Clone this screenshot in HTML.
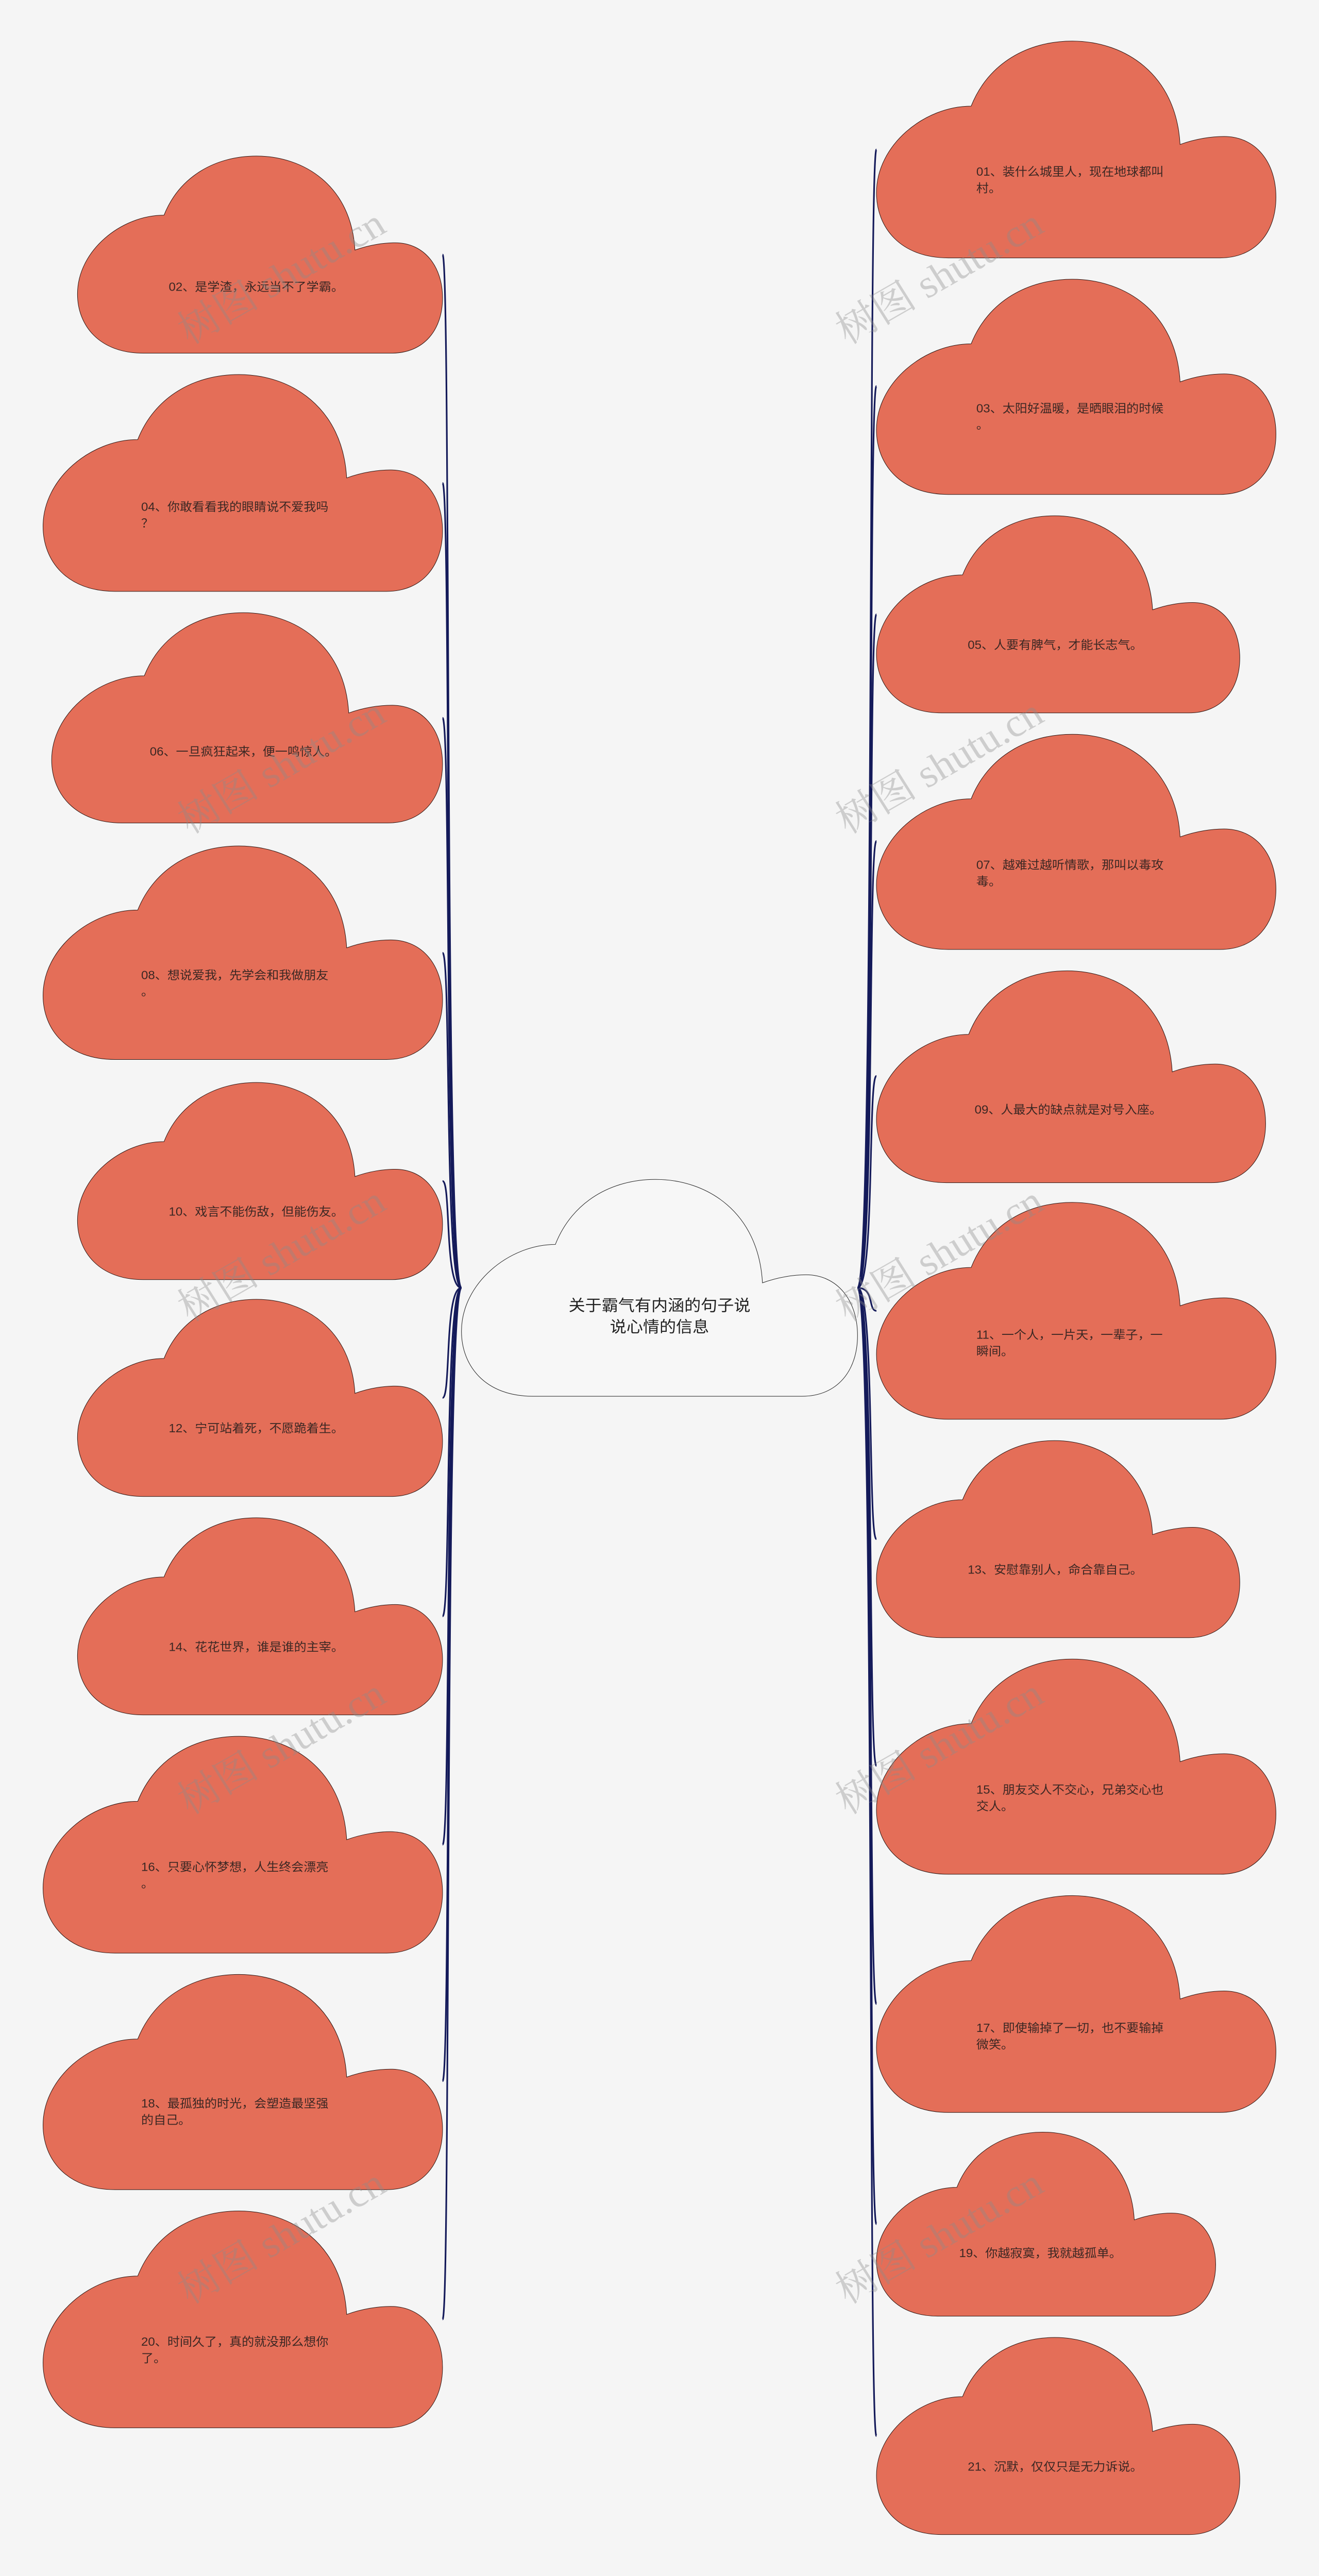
<!DOCTYPE html>
<html><head><meta charset="utf-8"><style>
html,body{margin:0;padding:0;background:#f5f5f5;width:100%;height:100%;overflow:hidden;}
svg{display:block;width:100vw;height:100vh;}
.t{font-family:"Liberation Sans","Noto Sans CJK SC",sans-serif;font-size:7.2px;fill:#3b2723;}
.c{font-family:"Liberation Sans","Noto Sans CJK SC",sans-serif;font-size:9.6px;fill:#222;}
.w{font-family:"Liberation Serif","Noto Serif CJK SC",serif;font-size:24px;fill:rgba(140,140,140,0.38);}
.cl{fill:#e46e58;stroke:#2a1410;}
.ln{fill:none;stroke:#141a5a;stroke-width:0.95;}
</style></head><body>
<svg viewBox="0 0 766 1568.2" preserveAspectRatio="none" xmlns="http://www.w3.org/2000/svg">
<rect width="766" height="1568.2" fill="#f5f5f5"/>

<g class="ln">
<path d="M268,784 C258,784 262,155 257,155"/>
<path d="M268,784 C258,784 262,294 257,294"/>
<path d="M268,784 C258,784 262,437 257,437"/>
<path d="M268,784 C258,784 262,580 257,580"/>
<path d="M268,784 C258,784 262,719 257,719"/>
<path d="M268,784 C258,784 262,851 257,851"/>
<path d="M268,784 C258,784 262,984 257,984"/>
<path d="M268,784 C258,784 262,1123 257,1123"/>
<path d="M268,784 C258,784 262,1267 257,1267"/>
<path d="M268,784 C258,784 262,1412 257,1412"/>
<path d="M498,784 C508,784 504,91 509,91"/>
<path d="M498,784 C508,784 504,235 509,235"/>
<path d="M498,784 C508,784 504,374 509,374"/>
<path d="M498,784 C508,784 504,512 509,512"/>
<path d="M498,784 C508,784 504,655 509,655"/>
<path d="M498,784 C508,784 504,798 509,798"/>
<path d="M498,784 C508,784 504,937 509,937"/>
<path d="M498,784 C508,784 504,1075 509,1075"/>
<path d="M498,784 C508,784 504,1220 509,1220"/>
<path d="M498,784 C508,784 504,1354 509,1354"/>
<path d="M498,784 C508,784 504,1483 509,1483"/>
</g>

<path d="M18,100 C6,100 0,86 0,70 C0,48 12,30 23.7,30 C28,10 38,0 49,0 C62,0 75,15 76,47.7 C80,45 84,44 87,44 C95,44 100,56 100,72 C100,88 95,100 86,100 Z" transform="translate(268,718) scale(2.30,1.32)" fill="#f7f7f7" stroke="#222" stroke-width="1" vector-effect="non-scaling-stroke"/>
<text class="c" text-anchor="middle"><tspan x="383" y="798">关于霸气有内涵的句子说</tspan><tspan x="383" y="811">说心情的信息</tspan></text>

<g class="cl">
<path d="M18,100 C6,100 0,86 0,70 C0,48 12,30 23.7,30 C28,10 38,0 49,0 C62,0 75,15 76,47.7 C80,45 84,44 87,44 C95,44 100,56 100,72 C100,88 95,100 86,100 Z" transform="translate(45,95) scale(2.12,1.20)" stroke-width="1" vector-effect="non-scaling-stroke"/>
<path d="M18,100 C6,100 0,86 0,70 C0,48 12,30 23.7,30 C28,10 38,0 49,0 C62,0 75,15 76,47.7 C80,45 84,44 87,44 C95,44 100,56 100,72 C100,88 95,100 86,100 Z" transform="translate(25,228) scale(2.32,1.32)" stroke-width="1" vector-effect="non-scaling-stroke"/>
<path d="M18,100 C6,100 0,86 0,70 C0,48 12,30 23.7,30 C28,10 38,0 49,0 C62,0 75,15 76,47.7 C80,45 84,44 87,44 C95,44 100,56 100,72 C100,88 95,100 86,100 Z" transform="translate(30,373) scale(2.27,1.28)" stroke-width="1" vector-effect="non-scaling-stroke"/>
<path d="M18,100 C6,100 0,86 0,70 C0,48 12,30 23.7,30 C28,10 38,0 49,0 C62,0 75,15 76,47.7 C80,45 84,44 87,44 C95,44 100,56 100,72 C100,88 95,100 86,100 Z" transform="translate(25,515) scale(2.32,1.30)" stroke-width="1" vector-effect="non-scaling-stroke"/>
<path d="M18,100 C6,100 0,86 0,70 C0,48 12,30 23.7,30 C28,10 38,0 49,0 C62,0 75,15 76,47.7 C80,45 84,44 87,44 C95,44 100,56 100,72 C100,88 95,100 86,100 Z" transform="translate(45,659) scale(2.12,1.20)" stroke-width="1" vector-effect="non-scaling-stroke"/>
<path d="M18,100 C6,100 0,86 0,70 C0,48 12,30 23.7,30 C28,10 38,0 49,0 C62,0 75,15 76,47.7 C80,45 84,44 87,44 C95,44 100,56 100,72 C100,88 95,100 86,100 Z" transform="translate(45,791) scale(2.12,1.20)" stroke-width="1" vector-effect="non-scaling-stroke"/>
<path d="M18,100 C6,100 0,86 0,70 C0,48 12,30 23.7,30 C28,10 38,0 49,0 C62,0 75,15 76,47.7 C80,45 84,44 87,44 C95,44 100,56 100,72 C100,88 95,100 86,100 Z" transform="translate(45,924) scale(2.12,1.20)" stroke-width="1" vector-effect="non-scaling-stroke"/>
<path d="M18,100 C6,100 0,86 0,70 C0,48 12,30 23.7,30 C28,10 38,0 49,0 C62,0 75,15 76,47.7 C80,45 84,44 87,44 C95,44 100,56 100,72 C100,88 95,100 86,100 Z" transform="translate(25,1057) scale(2.32,1.32)" stroke-width="1" vector-effect="non-scaling-stroke"/>
<path d="M18,100 C6,100 0,86 0,70 C0,48 12,30 23.7,30 C28,10 38,0 49,0 C62,0 75,15 76,47.7 C80,45 84,44 87,44 C95,44 100,56 100,72 C100,88 95,100 86,100 Z" transform="translate(25,1202) scale(2.32,1.31)" stroke-width="1" vector-effect="non-scaling-stroke"/>
<path d="M18,100 C6,100 0,86 0,70 C0,48 12,30 23.7,30 C28,10 38,0 49,0 C62,0 75,15 76,47.7 C80,45 84,44 87,44 C95,44 100,56 100,72 C100,88 95,100 86,100 Z" transform="translate(25,1346) scale(2.32,1.32)" stroke-width="1" vector-effect="non-scaling-stroke"/>
<path d="M18,100 C6,100 0,86 0,70 C0,48 12,30 23.7,30 C28,10 38,0 49,0 C62,0 75,15 76,47.7 C80,45 84,44 87,44 C95,44 100,56 100,72 C100,88 95,100 86,100 Z" transform="translate(509,25) scale(2.32,1.32)" stroke-width="1" vector-effect="non-scaling-stroke"/>
<path d="M18,100 C6,100 0,86 0,70 C0,48 12,30 23.7,30 C28,10 38,0 49,0 C62,0 75,15 76,47.7 C80,45 84,44 87,44 C95,44 100,56 100,72 C100,88 95,100 86,100 Z" transform="translate(509,170) scale(2.32,1.31)" stroke-width="1" vector-effect="non-scaling-stroke"/>
<path d="M18,100 C6,100 0,86 0,70 C0,48 12,30 23.7,30 C28,10 38,0 49,0 C62,0 75,15 76,47.7 C80,45 84,44 87,44 C95,44 100,56 100,72 C100,88 95,100 86,100 Z" transform="translate(509,314) scale(2.11,1.20)" stroke-width="1" vector-effect="non-scaling-stroke"/>
<path d="M18,100 C6,100 0,86 0,70 C0,48 12,30 23.7,30 C28,10 38,0 49,0 C62,0 75,15 76,47.7 C80,45 84,44 87,44 C95,44 100,56 100,72 C100,88 95,100 86,100 Z" transform="translate(509,447) scale(2.32,1.31)" stroke-width="1" vector-effect="non-scaling-stroke"/>
<path d="M18,100 C6,100 0,86 0,70 C0,48 12,30 23.7,30 C28,10 38,0 49,0 C62,0 75,15 76,47.7 C80,45 84,44 87,44 C95,44 100,56 100,72 C100,88 95,100 86,100 Z" transform="translate(509,591) scale(2.26,1.29)" stroke-width="1" vector-effect="non-scaling-stroke"/>
<path d="M18,100 C6,100 0,86 0,70 C0,48 12,30 23.7,30 C28,10 38,0 49,0 C62,0 75,15 76,47.7 C80,45 84,44 87,44 C95,44 100,56 100,72 C100,88 95,100 86,100 Z" transform="translate(509,732) scale(2.32,1.32)" stroke-width="1" vector-effect="non-scaling-stroke"/>
<path d="M18,100 C6,100 0,86 0,70 C0,48 12,30 23.7,30 C28,10 38,0 49,0 C62,0 75,15 76,47.7 C80,45 84,44 87,44 C95,44 100,56 100,72 C100,88 95,100 86,100 Z" transform="translate(509,877) scale(2.11,1.20)" stroke-width="1" vector-effect="non-scaling-stroke"/>
<path d="M18,100 C6,100 0,86 0,70 C0,48 12,30 23.7,30 C28,10 38,0 49,0 C62,0 75,15 76,47.7 C80,45 84,44 87,44 C95,44 100,56 100,72 C100,88 95,100 86,100 Z" transform="translate(509,1010) scale(2.32,1.31)" stroke-width="1" vector-effect="non-scaling-stroke"/>
<path d="M18,100 C6,100 0,86 0,70 C0,48 12,30 23.7,30 C28,10 38,0 49,0 C62,0 75,15 76,47.7 C80,45 84,44 87,44 C95,44 100,56 100,72 C100,88 95,100 86,100 Z" transform="translate(509,1154) scale(2.32,1.32)" stroke-width="1" vector-effect="non-scaling-stroke"/>
<path d="M18,100 C6,100 0,86 0,70 C0,48 12,30 23.7,30 C28,10 38,0 49,0 C62,0 75,15 76,47.7 C80,45 84,44 87,44 C95,44 100,56 100,72 C100,88 95,100 86,100 Z" transform="translate(509,1298) scale(1.97,1.12)" stroke-width="1" vector-effect="non-scaling-stroke"/>
<path d="M18,100 C6,100 0,86 0,70 C0,48 12,30 23.7,30 C28,10 38,0 49,0 C62,0 75,15 76,47.7 C80,45 84,44 87,44 C95,44 100,56 100,72 C100,88 95,100 86,100 Z" transform="translate(509,1423) scale(2.11,1.20)" stroke-width="1" vector-effect="non-scaling-stroke"/>
</g>

<g class="t">
<text x="98" y="177">02、是学渣，永远当不了学霸。</text>
<text x="82" y="311"><tspan x="82">04、你敢看看我的眼睛说不爱我吗</tspan><tspan x="82" dy="10">？</tspan></text>
<text x="87" y="460">06、一旦疯狂起来，便一鸣惊人。</text>
<text x="82" y="596"><tspan x="82">08、想说爱我，先学会和我做朋友</tspan><tspan x="82" dy="10">。</tspan></text>
<text x="98" y="740">10、戏言不能伤敌，但能伤友。</text>
<text x="98" y="872">12、宁可站着死，不愿跪着生。</text>
<text x="98" y="1005">14、花花世界，谁是谁的主宰。</text>
<text x="82" y="1139"><tspan x="82">16、只要心怀梦想，人生终会漂亮</tspan><tspan x="82" dy="10">。</tspan></text>
<text x="82" y="1283"><tspan x="82">18、最孤独的时光，会塑造最坚强</tspan><tspan x="82" dy="10">的自己。</tspan></text>
<text x="82" y="1428"><tspan x="82">20、时间久了，真的就没那么想你</tspan><tspan x="82" dy="10">了。</tspan></text>
</g>
<g class="t">
<text x="567" y="107"><tspan x="567">01、装什么城里人，现在地球都叫</tspan><tspan x="567" dy="10">村。</tspan></text>
<text x="567" y="251"><tspan x="567">03、太阳好温暖，是晒眼泪的时候</tspan><tspan x="567" dy="10">。</tspan></text>
<text x="562" y="395">05、人要有脾气，才能长志气。</text>
<text x="567" y="529"><tspan x="567">07、越难过越听情歌，那叫以毒攻</tspan><tspan x="567" dy="10">毒。</tspan></text>
<text x="566" y="678">09、人最大的缺点就是对号入座。</text>
<text x="567" y="815"><tspan x="567">11、一个人，一片天，一辈子，一</tspan><tspan x="567" dy="10">瞬间。</tspan></text>
<text x="562" y="958">13、安慰靠别人，命合靠自己。</text>
<text x="567" y="1092"><tspan x="567">15、朋友交人不交心，兄弟交心也</tspan><tspan x="567" dy="10">交人。</tspan></text>
<text x="567" y="1237"><tspan x="567">17、即使输掉了一切，也不要输掉</tspan><tspan x="567" dy="10">微笑。</tspan></text>
<text x="557" y="1374">19、你越寂寞，我就越孤单。</text>
<text x="562" y="1504">21、沉默，仅仅只是无力诉说。</text>
</g>

<g class="w">
<text transform="translate(110,210) rotate(-31)">树图 shutu.cn</text>
<text transform="translate(110,508) rotate(-31)">树图 shutu.cn</text>
<text transform="translate(110,805) rotate(-31)">树图 shutu.cn</text>
<text transform="translate(110,1105) rotate(-31)">树图 shutu.cn</text>
<text transform="translate(110,1403) rotate(-31)">树图 shutu.cn</text>
<text transform="translate(492,210) rotate(-31)">树图 shutu.cn</text>
<text transform="translate(492,508) rotate(-31)">树图 shutu.cn</text>
<text transform="translate(492,805) rotate(-31)">树图 shutu.cn</text>
<text transform="translate(492,1105) rotate(-31)">树图 shutu.cn</text>
<text transform="translate(492,1403) rotate(-31)">树图 shutu.cn</text>
</g>
</svg>
</body></html>
